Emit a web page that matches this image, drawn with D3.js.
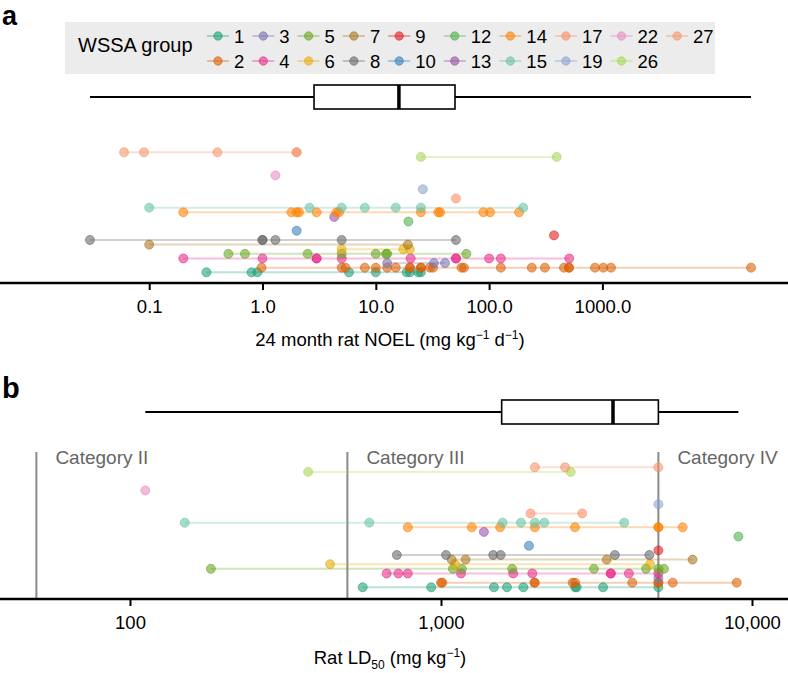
<!DOCTYPE html>
<html><head><meta charset="utf-8">
<script src="https://cdn.jsdelivr.net/npm/d3@7"></script>
<style>body{margin:0;background:#fff}svg{display:block;font-family:"Liberation Sans",Arial,Helvetica,sans-serif}</style>
</head><body><svg id="c" width="788" height="673"></svg>
<script>
const groups = [1,2,3,4,5,6,7,8,9,10,12,13,14,15,17,19,22,26,27];
const groupColors = ["#1b9e77","#d95f02","#7570b3","#e7298a","#66a61e","#e6ab02","#a6761d","#666666",
  "#e41a1c","#377eb8","#4daf4a","#984ea3","#ff7f00","#66c2a5","#fc8d62","#8da0cb","#e78ac3","#a6d854","#f4946a"];
// Panel a: 24 month rat NOEL values (mg/kg/d) per group (same order as groups)
const noelValues = [
  [0.32,0.8,0.9,5.8,10,18.7,20,23.7,25],
  [0.98,5.0,5.4,8.0,10,12.6,15,20,20,25,25,30,32,57,60,127,238,311,458,507,507,861,1018,1191,20500],
  [12.6,32.6,40.8],
  [0.2,1.0,3.0,3.0,5.0,20.3,51,51,100,127,510],
  [0.5,0.7,2.5,5.0,10,12.3,12.6,63],
  [5.0,17.5,20],
  [0.1,19.2],
  [0.03,1.0,1.0,1.3,5.0,51],
  [374],
  [2.0],
  [19.4],
  [4.3],
  [0.2,1.8,2.0,2.1,3.0,4.5,4.75,25,35.6,37,89,102,184],
  [0.1,2.6,5.0,8.0,15,25,200],
  [51],
  [26],
  [1.3],
  [25,395],
  [0.06,0.09,0.40,2.0,2.0]
];
// Panel b: rat LD50 values (mg/kg)
const ld50Values = [
  [560,930,1480,1630,1840,2700,2730,3320,5000],
  [1000,1010,2000,2000,2650,2700,4120,5000,5000,5560,8930],
  [5000],
  [669,729,782,1160,1706,1966,3515,3515,4019,5000],
  [182,1092,1167,1694,3103,4562,5000,5212],
  [440,1110,4700],
  [1082,1200,3410,6440],
  [721,1038,1472,1555,3623,4677],
  [5000],
  [1918],
  [9040],
  [1374],
  [782,1256,1549,2004,2697,5000,5000,5985],
  [150,588,1578,1807,2004,2148,3882],
  [1941,2845],
  [5000],
  [112],
  [374,2612],
  [2004,2506,5000]
];
const boxA = [0.03, 2.85, 16.0, 50, 20500];   // min, q1, median, q3, max
const boxB = [112, 1567, 3573, 5000, 9040];
const ticksA = [0.1, 1, 10, 100, 1000];
const tickLabelsA = ["0.1","1.0","10.0","100.0","1000.0"];
const ticksB = [100, 1000, 10000];
const tickLabelsB = ["100","1,000","10,000"];
const categoryValues = [50, 500, 5000];
const categoryLabels = ["Category II","Category III","Category IV"];

const svg = d3.select("#c");
const W = 788;
const col = d3.scaleOrdinal().domain(groups).range(groupColors);

// panel labels
svg.append("text").attr("x",2).attr("y",24.5).attr("font-size",27).attr("font-weight","bold").text("a");
svg.append("text").attr("x",2).attr("y",398).attr("font-size",29).attr("font-weight","bold").text("b");

// legend
const leg = svg.append("g");
leg.append("rect").attr("x",65).attr("y",22).attr("width",650).attr("height",52).attr("fill","#ececec");
leg.append("text").attr("x",78).attr("y",52).attr("font-size",20).text("WSSA group");
const rowsY = [36, 61];
const nCols = Math.ceil(groups.length/2);
let cx = 207;
for (let c = 0; c < nCols; c++) {
  let maxW = 0;
  for (let r = 0; r < 2; r++) {
    const i = c*2 + r;
    if (i >= groups.length) continue;
    const g = groups[i], y = rowsY[r];
    leg.append("line").attr("x1",cx).attr("x2",cx+22).attr("y1",y).attr("y2",y)
      .attr("stroke",col(g)).attr("stroke-opacity",0.35).attr("stroke-width",2);
    leg.append("circle").attr("cx",cx+11).attr("cy",y).attr("r",4.2)
      .attr("fill",col(g)).attr("fill-opacity",0.6).attr("stroke",col(g)).attr("stroke-opacity",0.6);
    const t = leg.append("text").attr("x",cx+27).attr("y",y+6.5).attr("font-size",18.5).text(g);
    maxW = Math.max(maxW, t.node().getComputedTextLength());
  }
  cx += 35 + maxW;
}

function panel(opts) {
  const {x, y, values, box, axisY, ticks, tickLabels, boxY} = opts;
  const gA = svg.append("g");
  // box plot
  gA.append("line").attr("x1",x(box[0])).attr("x2",x(box[1])).attr("y1",boxY).attr("y2",boxY)
    .attr("stroke","#000").attr("stroke-width",2);
  gA.append("line").attr("x1",x(box[3])).attr("x2",x(box[4])).attr("y1",boxY).attr("y2",boxY)
    .attr("stroke","#000").attr("stroke-width",2);
  gA.append("rect").attr("x",x(box[1])).attr("y",boxY-12).attr("width",x(box[3])-x(box[1])).attr("height",24)
    .attr("fill","#fff").attr("stroke","#000").attr("stroke-width",1.6);
  gA.append("line").attr("x1",x(box[2])).attr("x2",x(box[2])).attr("y1",boxY-12).attr("y2",boxY+12)
    .attr("stroke","#000").attr("stroke-width",3.5);
  if (opts.after) opts.after(gA);
  // range lines
  groups.forEach((g,i) => {
    const v = values[i];
    const ext = d3.extent(v);
    if (ext[0] !== ext[1]) {
      gA.append("line").attr("x1",x(ext[0])).attr("x2",x(ext[1])).attr("y1",y(g)).attr("y2",y(g))
        .attr("stroke",col(g)).attr("stroke-opacity",0.3).attr("stroke-width",2);
    }
  });
  groups.forEach((g,i) => {
    gA.selectAll(null).data(values[i]).enter().append("circle")
      .attr("cx",d=>x(d)).attr("cy",y(g)).attr("r",4.5)
      .attr("fill",col(g)).attr("fill-opacity",0.58)
      .attr("stroke",col(g)).attr("stroke-opacity",0.58).attr("stroke-width",1);
  });
  // axis
  const ax = svg.append("g").attr("transform",`translate(0,${axisY})`)
    .call(d3.axisBottom(x).tickValues(ticks).tickFormat((d,i)=>tickLabels[i]).tickSize(7).tickPadding(10));
  ax.select(".domain").remove();
  ax.selectAll(".tick line").attr("stroke","#000").attr("stroke-width",2);
  ax.selectAll(".tick text").attr("font-size",18.5).attr("font-family","Liberation Sans, Arial, sans-serif").attr("fill","#000");
  ax.append("line").attr("x1",0).attr("x2",W).attr("y1",0).attr("y2",0).attr("stroke","#000").attr("stroke-width",2.5);
}

const xA = d3.scaleLog().domain([0.1, 1000]).range([149.2, 602.4]);
const yA = d3.scaleLinear().domain([1,27]).range([272.3,152.3]);
panel({x:xA, y:yA, values:noelValues, box:boxA, axisY:283, ticks:ticksA, tickLabels:tickLabelsA, boxY:97});

const xB = d3.scaleLog().domain([100, 10000]).range([130, 752]);
const yB = d3.scaleLinear().domain([1,27]).range([587.3,467.3]);
panel({x:xB, y:yB, values:ld50Values, box:boxB, axisY:599, ticks:ticksB, tickLabels:tickLabelsB, boxY:412,
  after: g => {
    categoryValues.forEach((v,i) => {
      g.append("line").attr("x1",xB(v)).attr("x2",xB(v)).attr("y1",452).attr("y2",599)
        .attr("stroke","#8a8a8a").attr("stroke-width",2);
      g.append("text").attr("x",xB(v)+19).attr("y",464).attr("font-size",19).attr("fill","#666")
        .text(categoryLabels[i]);
    });
  }});

// axis titles
const tA = svg.append("text").attr("x",390).attr("y",346).attr("text-anchor","middle").attr("font-size",18.5);
tA.append("tspan").text("24 month rat NOEL (mg kg");
tA.append("tspan").attr("dy",-7).attr("font-size",12).text("\u22121");
tA.append("tspan").attr("dy",7).text(" d");
tA.append("tspan").attr("dy",-7).attr("font-size",12).text("\u22121");
tA.append("tspan").attr("dy",7).text(")");

const tB = svg.append("text").attr("x",390).attr("y",664).attr("text-anchor","middle").attr("font-size",18.5);
tB.append("tspan").text("Rat LD");
tB.append("tspan").attr("dy",5).attr("font-size",12).text("50");
tB.append("tspan").attr("dy",-5).text(" (mg kg");
tB.append("tspan").attr("dy",-7).attr("font-size",12).text("\u22121");
tB.append("tspan").attr("dy",7).text(")");
</script></body></html>
